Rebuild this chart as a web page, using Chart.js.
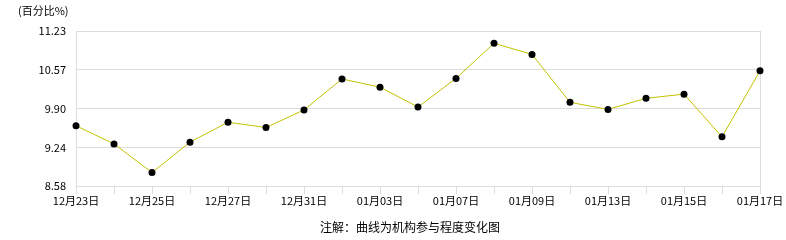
<!DOCTYPE html>
<html><head><meta charset="utf-8">
<script src="https://cdn.jsdelivr.net/npm/chart.js@4"></script>
<style>html,body{margin:0;padding:0;background:#fff}#w{width:786px;height:240px}</style>
</head><body><div id="w"><canvas id="c" width="786" height="240"></canvas></div>
<script>
const dates = ['12月23日','12月24日','12月25日','12月26日','12月27日','12月30日','12月31日','01月02日','01月03日','01月06日','01月07日','01月08日','01月09日','01月10日','01月13日','01月14日','01月15日','01月16日','01月17日'];
const participation = [9.61,9.30,8.81,9.33,9.67,9.58,9.88,10.41,10.27,9.93,10.42,11.02,10.83,10.01,9.89,10.08,10.15,9.42,10.55];
const yTicks = [8.58,9.24,9.90,10.57,11.23];
const yTickLabels = ['8.58','9.24','9.90','10.57','11.23'];
const unitLabel = '(百分比%)';
const footerNote = '注解：曲线为机构参与程度变化图';

const FONT = '"Noto Sans CJK SC", "DejaVu Sans", sans-serif';
const textPlugin = {
  id: 'texts',
  afterDraw(chart) {
    const ctx = chart.ctx;
    ctx.save();
    ctx.fillStyle = '#000';
    ctx.font = '11px ' + FONT;
    ctx.textBaseline = 'middle';
    ctx.textAlign = 'left';
    ctx.fillText(unitLabel, 18, 11);
    ctx.font = '12px ' + FONT;
    ctx.textAlign = 'center';
    ctx.fillText(footerNote, 410, 227);
    ctx.restore();
  }
};

new Chart(document.getElementById('c'), {
  type: 'line',
  data: { labels: dates, datasets: [{
    data: participation,
    borderColor: '#c4c000',
    borderWidth: 1,
    pointBackgroundColor: '#000',
    pointBorderColor: '#000',
    pointRadius: 3.5,
    pointBorderWidth: 0,
    tension: 0
  }]},
  options: {
    responsive: false,
    animation: false,
    layout: { padding: { top: 31, right: 26, bottom: 0, left: 0 } },
    plugins: { legend: { display: false }, tooltip: { enabled: false } },
    scales: {
      x: {
        offset: false,
        border: { display: false },
        grid: {
          drawOnChartArea: true,
          color: c => (c.index === 0 || c.index === dates.length - 1) ? '#dcdcdc' : 'rgba(0,0,0,0)',
          tickColor: '#dcdcdc',
          tickLength: 8
        },
        ticks: {
          autoSkip: false, maxRotation: 0, minRotation: 0,
          color: '#000', font: { size: 11, family: FONT }, padding: 0,
          callback: (v, i) => i % 2 === 0 ? dates[i] : ''
        },
        afterFit: s => { s.height = 54; }
      },
      y: {
        min: 8.58, max: 11.23,
        border: { display: false },
        grid: { color: '#dcdcdc', drawTicks: false },
        afterBuildTicks: s => { s.ticks = yTicks.map(v => ({ value: v })); },
        ticks: {
          color: '#000', font: { size: 11, family: FONT }, padding: 10,
          callback: (v) => { const i = yTicks.indexOf(v); return i >= 0 ? yTickLabels[i] : ''; }
        },
        afterFit: s => { s.width = 76; }
      }
    }
  },
  plugins: [textPlugin]
});
</script></body></html>
